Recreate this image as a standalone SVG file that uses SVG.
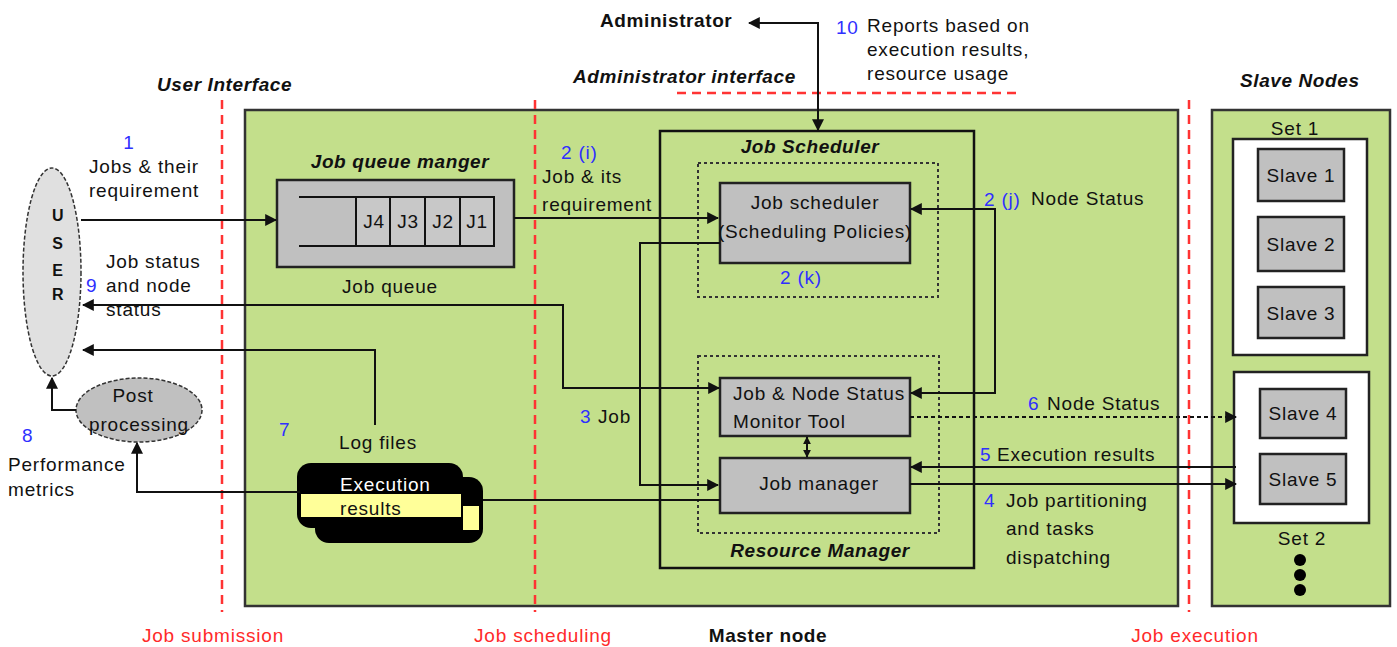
<svg xmlns="http://www.w3.org/2000/svg" width="1397" height="647" viewBox="0 0 1397 647">
<style>
text{font-family:"Liberation Sans",Arial,sans-serif;font-size:19px;letter-spacing:0.8px;fill:#111}
.c{text-anchor:middle}
.b{fill:#2f2fff}
.r{fill:#ff2a2a}
.hd{font-style:italic;font-weight:bold;letter-spacing:0.6px}
.bold{font-weight:bold;letter-spacing:0.6px}
.box{fill:#c0c0c0;stroke:#222;stroke-width:2.5}
.ln{fill:none;stroke:#111;stroke-width:2}
.dot{fill:none;stroke:#333;stroke-width:2;stroke-dasharray:3 3}
.rd{stroke:#ff3333;stroke-width:2.5;stroke-dasharray:9 6;fill:none}
.grn{fill:#c3df8b;stroke:#333;stroke-width:2.5}
.wht{fill:#fff;stroke:#222;stroke-width:2.5}
</style>
<defs>
<marker id="ah" viewBox="0 0 10 10" refX="9" refY="5" markerWidth="12" markerHeight="12" markerUnits="userSpaceOnUse" orient="auto-start-reverse">
<path d="M0,0 L10,5 L0,10 z" fill="#111"/>
</marker>
<marker id="ahs" viewBox="0 0 10 10" refX="9" refY="5" markerWidth="8" markerHeight="9" markerUnits="userSpaceOnUse" orient="auto-start-reverse">
<path d="M0,0 L10,5 L0,10 z" fill="#111"/>
</marker>
</defs>
<rect width="1397" height="647" fill="#fff"/>
<g id="master-node"><rect class="grn" x="245" y="110" width="933" height="496"/></g>
<g id="slave-area"><rect class="grn" x="1212" y="110" width="178" height="496"/></g>
<g id="separators">
<line class="rd" x1="222" y1="100" x2="222" y2="612"/>
<line class="rd" x1="535" y1="100" x2="535" y2="612"/>
<line class="rd" x1="1189" y1="100" x2="1189" y2="612"/>
<line class="rd" x1="677" y1="93" x2="1018" y2="93"/>
</g>
<g id="job-scheduler-frame">
<rect x="660" y="131" width="314" height="437" fill="none" stroke="#111" stroke-width="2.5"/>
<text class="hd c" x="810" y="153">Job Scheduler</text>
<rect class="dot" x="698" y="163" width="240" height="134"/>
<rect class="dot" x="698" y="356" width="241" height="177"/>
<text class="hd c" x="820" y="557">Resource Manager</text>
</g>
<g id="user">
<ellipse cx="52" cy="272" rx="29" ry="104" fill="#e0e0e0" stroke="#333" stroke-width="1.5" stroke-dasharray="4 2"/>
<text class="bold c" x="58" y="221" style="font-size:16px">U</text>
<text class="bold c" x="58" y="249" style="font-size:16px">S</text>
<text class="bold c" x="58" y="276" style="font-size:16px">E</text>
<text class="bold c" x="58" y="300" style="font-size:16px">R</text>
</g>
<g id="post-processing">
<ellipse cx="139" cy="410" rx="63" ry="32" fill="#c0c0c0" stroke="#333" stroke-width="1.5" stroke-dasharray="4 2"/>
<text class="c" x="133" y="402">Post</text>
<text class="c" x="139" y="431">processing</text>
</g>
<g id="job-queue">
<text class="hd c" x="400" y="168">Job queue manger</text>
<rect class="box" x="277" y="180" width="237" height="87"/>
<rect x="356" y="197" width="138" height="49" fill="#c8c8c8"/>
<path class="ln" d="M299,197 H495 M299,246 H495 M356,197 V246 M390,197 V246 M425,197 V246 M460,197 V246 M494,197 V246"/>
<text class="c" x="374" y="228">J4</text>
<text class="c" x="408" y="228">J3</text>
<text class="c" x="443" y="228">J2</text>
<text class="c" x="477" y="228">J1</text>
<text class="c" x="390" y="293">Job queue</text>
</g>
<g id="job-scheduler">
<rect class="box" x="720" y="183" width="190" height="80"/>
<text class="c" x="815" y="209">Job scheduler</text>
<text class="c" x="815" y="238">(Scheduling Policies)</text>
</g>
<g id="monitor-tool">
<rect class="box" x="720" y="378" width="190" height="58"/>
<text x="733" y="400">Job &amp; Node Status</text>
<text x="733" y="428">Monitor Tool</text>
</g>
<g id="job-manager">
<rect class="box" x="720" y="458" width="190" height="55"/>
<text class="c" x="819" y="490">Job manager</text>
</g>
<g id="execution-results">
<rect x="315" y="477" width="168" height="66" rx="14" fill="#000"/>
<rect x="463" y="506" width="16" height="24" fill="#ffff99"/>
<rect x="297" y="463" width="166" height="65" rx="14" fill="#000"/>
<rect x="301" y="494" width="160" height="23" fill="#ffff99"/>
<text x="340" y="491" style="fill:#fff">Execution</text>
<text x="340" y="515">results</text>
<text class="c" x="378" y="449">Log files</text>
</g>
<g id="slave-set-1">
<text class="c" x="1295" y="135">Set 1</text>
<rect class="wht" x="1233" y="139" width="134" height="216"/>
<rect class="box" x="1258" y="149" width="86" height="52"/>
<text class="c" x="1301" y="182">Slave 1</text>
<rect class="box" x="1258" y="217" width="86" height="54"/>
<text class="c" x="1301" y="251">Slave 2</text>
<rect class="box" x="1258" y="287" width="86" height="51"/>
<text class="c" x="1301" y="320">Slave 3</text>
</g>
<g id="slave-set-2">
<rect class="wht" x="1234" y="372" width="135" height="151"/>
<rect class="box" x="1260" y="389" width="86" height="49"/>
<text class="c" x="1303" y="420">Slave 4</text>
<rect class="box" x="1260" y="454" width="86" height="50"/>
<text class="c" x="1303" y="486">Slave 5</text>
<text class="c" x="1302" y="545">Set 2</text>
<circle cx="1300" cy="560" r="6" fill="#000"/>
<circle cx="1300" cy="575" r="6" fill="#000"/>
<circle cx="1300" cy="590" r="6" fill="#000"/>
</g>
<g id="administrator">
<text class="bold" x="600" y="27">Administrator</text>
</g>
<g id="connectors">
<line class="ln" x1="81" y1="220" x2="276" y2="220" marker-end="url(#ah)"/>
<polyline class="ln" points="83,305 563,305 563,388 719,388" marker-start="url(#ah)" marker-end="url(#ah)"/>
<polyline class="ln" points="375,425 375,350 83,350" marker-end="url(#ah)"/>
<polyline class="ln" points="76,410 52,410 52,378" marker-end="url(#ah)"/>
<polyline class="ln" points="300,492 137,492 137,443" marker-end="url(#ah)"/>
<line class="ln" x1="514" y1="218" x2="718" y2="218" marker-end="url(#ah)"/>
<polyline class="ln" points="720,243 640,243 640,485 718,485" marker-end="url(#ah)"/>
<line class="ln" x1="483" y1="500" x2="720" y2="500"/>
<polyline class="ln" points="911,209 995,209 995,393 911,393" marker-start="url(#ah)" marker-end="url(#ah)"/>
<line class="ln" x1="807" y1="437" x2="807" y2="457" marker-start="url(#ahs)" marker-end="url(#ahs)"/>
<line x1="910" y1="417" x2="1236" y2="417" stroke="#111" stroke-width="2" stroke-dasharray="4 3" marker-end="url(#ah)"/>
<line class="ln" x1="1236" y1="467" x2="911" y2="467" marker-end="url(#ah)"/>
<line class="ln" x1="910" y1="484" x2="1236" y2="484" marker-end="url(#ah)"/>
<polyline class="ln" points="818,130 818,23 749,23" marker-start="url(#ah)" marker-end="url(#ah)"/>
</g>
<g id="labels">
<text class="hd" x="157" y="91">User Interface</text>
<text class="hd" x="573" y="83">Administrator interface</text>
<text class="hd" x="1240" y="87">Slave Nodes</text>
<text class="b" x="836" y="34">10</text>
<text x="867" y="32">Reports based on</text>
<text x="867" y="56">execution results,</text>
<text x="867" y="80">resource usage</text>
<text class="b c" x="129" y="149">1</text>
<text class="c" x="144" y="173">Jobs &amp; their</text>
<text class="c" x="144" y="197">requirement</text>
<text x="106" y="268">Job status</text>
<text class="b" x="86" y="292">9</text>
<text x="106" y="292">and node</text>
<text x="106" y="316">status</text>
<text class="b" x="22" y="442">8</text>
<text x="8" y="471">Performance</text>
<text x="8" y="496">metrics</text>
<text class="b" x="279" y="436">7</text>
<text class="b" x="561" y="159">2 (i)</text>
<text x="542" y="183">Job &amp; its</text>
<text x="542" y="211">requirement</text>
<text class="b" x="780" y="284">2 (k)</text>
<text class="b" x="984" y="206">2 (j)</text>
<text x="1031" y="205">Node Status</text>
<text class="b" x="580" y="423">3</text>
<text x="598" y="423">Job</text>
<text class="b" x="1028" y="410">6</text>
<text x="1047" y="410">Node Status</text>
<text class="b" x="980" y="461">5</text>
<text x="997" y="461">Execution results</text>
<text class="b" x="984" y="507">4</text>
<text x="1006" y="507">Job partitioning</text>
<text x="1006" y="535">and tasks</text>
<text x="1006" y="564">dispatching</text>
<text class="r c" x="213" y="642">Job submission</text>
<text class="r c" x="543" y="642">Job scheduling</text>
<text class="bold c" x="768" y="642">Master node</text>
<text class="r c" x="1195" y="642">Job execution</text>
</g>
</svg>
